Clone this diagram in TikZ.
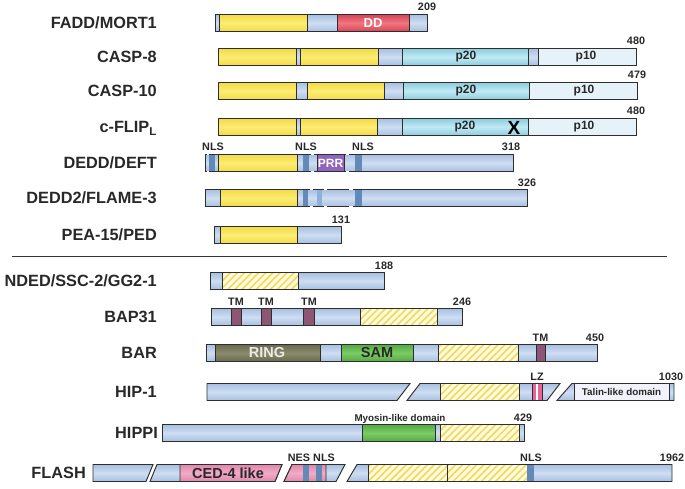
\documentclass[tikz,border=0pt]{standalone}
\usepackage{fontspec}
\setmainfont{Liberation Sans}
\usetikzlibrary{patterns.meta}

\definecolor{barblue}{RGB}{206,222,242}
\definecolor{barblueD}{RGB}{168,192,224}
\definecolor{dedyel}{RGB}{252,236,115}
\definecolor{dedyelD}{RGB}{243,218,72}
\definecolor{ddred}{RGB}{240,118,128}
\definecolor{ddredD}{RGB}{212,70,86}
\definecolor{pcyan}{RGB}{192,233,243}
\definecolor{pcyanD}{RGB}{140,205,222}
\definecolor{pten}{RGB}{230,242,250}
\definecolor{nlsblue}{RGB}{98,138,184}
\definecolor{nlslight}{RGB}{140,178,218}
\definecolor{prrpurple}{RGB}{145,100,190}
\definecolor{tmred}{RGB}{140,86,116}
\definecolor{ringolive}{RGB}{138,138,108}
\definecolor{ringoliveD}{RGB}{105,105,78}
\definecolor{samgreen}{RGB}{122,204,100}
\definecolor{samgreenD}{RGB}{85,170,70}
\definecolor{lzpink}{RGB}{232,100,148}
\definecolor{cedpink}{RGB}{240,172,200}
\definecolor{cedpinkD}{RGB}{225,135,170}
\definecolor{talinbg}{RGB}{242,242,252}
\definecolor{hatchbg}{RGB}{255,251,224}
\definecolor{hatchln}{RGB}{242,218,95}
\definecolor{txtgray}{RGB}{40,40,40}

% one domain box of a bar: x from, x to, row centre, style
\newcommand{\domseg}[4]{\draw[#4] (#1,#3-8.5) rectangle (#2,#3+8.5);}
% small inner box without outline (NLS, NES)
\newcommand{\nlsbox}[4]{\fill[#4] (#1,#3-7.8) rectangle (#2,#3+7.8);}
% break in the outline of a bar
\newcommand{\bordergap}[3]{\draw[gap] (#1,#3-8.5) -- (#2,#3-8.5) (#1,#3+8.5) -- (#2,#3+8.5);}

\begin{document}
\begin{tikzpicture}[x=1pt, y=-1pt,
    part/.style={draw=black!82, line width=0.95pt},
    blu/.style={part, top color=barblueD, bottom color=barblueD, middle color=barblue},
    ylw/.style={part, top color=dedyelD, bottom color=dedyelD, middle color=dedyel},
    red/.style={part, top color=ddredD, bottom color=ddredD, middle color=ddred},
    cyn/.style={part, top color=pcyanD, bottom color=pcyanD, middle color=pcyan},
    pale/.style={part, fill=pten},
    prr/.style={part, fill=prrpurple},
    tm/.style={part, fill=tmred},
    ring/.style={part, top color=ringoliveD, bottom color=ringoliveD, middle color=ringolive},
    sam/.style={part, top color=samgreenD, bottom color=samgreenD, middle color=samgreen},
    lz/.style={part, fill=lzpink},
    ced/.style={part, top color=cedpinkD, bottom color=cedpinkD, middle color=cedpink},
    talin/.style={part, fill=talinbg},
    hatch/.style={part, preaction={fill=hatchbg},
        pattern={Lines[angle=45, distance=5pt, line width=1.7pt]}, pattern color=hatchln},
    gap/.style={draw=white, line width=1.6pt},
    prot/.style={font=\fontsize{16.3}{18}\selectfont\bfseries, text=txtgray, anchor=base east, inner sep=0pt},
    num/.style={font=\fontsize{10.8}{12}\selectfont\bfseries, text=txtgray, anchor=base, inner sep=0pt},
    dom/.style={font=\fontsize{12}{13}\selectfont\bfseries, text=txtgray, inner sep=0pt},
    bigdom/.style={font=\fontsize{14.5}{16}\selectfont\bfseries, text=txtgray, inner sep=0pt},
    small/.style={font=\fontsize{9.8}{11}\selectfont\bfseries, text=txtgray, inner sep=0pt}]
    \useasboundingbox (0,0) rectangle (685,489);

    % Protein names
    \node[prot] (fadd) at (157,28.8) {FADD/MORT1};
    \node[prot] (casp8) at (157,62.8) {CASP-8};
    \node[prot] (casp10) at (157,96.8) {CASP-10};
    \node[prot] (cflip) at (157,132.8) {c-FLIP\textsubscript{L}};
    \node[prot] (dedd) at (157,168.8) {DEDD/DEFT};
    \node[prot] (dedd2) at (157,203.8) {DEDD2/FLAME-3};
    \node[prot] (pea) at (157,240.8) {PEA-15/PED};
    \node[prot] (nded) at (157,286.8) {NDED/SSC-2/GG2-1};
    \node[prot] (bap) at (157,322.8) {BAP31};
    \node[prot] (bar) at (157,358.8) {BAR};
    \node[prot] (hip) at (157,397.8) {HIP-1};
    \node[prot] (hippi) at (158,438.8) {HIPPI};
    \node[prot] (flash) at (86,478.8) {FLASH};

    % FADD/MORT1
    \domseg{215}{219}{23}{blu}
    \domseg{219}{307}{23}{ylw}
    \domseg{307}{337}{23}{blu}
    \domseg{337}{409}{23}{red}
    \domseg{409}{427}{23}{blu}
    \node[dom, text=white, font=\fontsize{13}{14}\selectfont\bfseries] (dd) at (373,23) {DD};
    \node[num] (n209) at (427,11) {209};

    % CASP-8
    \domseg{218}{296}{57}{ylw}
    \domseg{296}{300}{57}{blu}
    \domseg{300}{378}{57}{ylw}
    \domseg{378}{402}{57}{blu}
    \domseg{402}{528}{57}{cyn}
    \domseg{528}{538}{57}{blu}
    \domseg{538}{636}{57}{pale}
    \node[dom] (c8p20) at (466,57) {p20};
    \node[dom] (c8p10) at (586,57) {p10};
    \node[num] (n480a) at (636,45) {480};

    % CASP-10
    \domseg{218}{296}{91}{ylw}
    \domseg{296}{307}{91}{blu}
    \domseg{307}{384}{91}{ylw}
    \domseg{384}{403}{91}{blu}
    \domseg{403}{529}{91}{cyn}
    \domseg{529}{637}{91}{pale}
    \node[dom] (c10p20) at (466,91) {p20};
    \node[dom] (c10p10) at (584,91) {p10};
    \node[num] (n479) at (637,79) {479};

    % c-FLIP
    \domseg{218}{296}{127}{ylw}
    \domseg{296}{300}{127}{blu}
    \domseg{300}{377}{127}{ylw}
    \domseg{377}{402}{127}{blu}
    \domseg{402}{528}{127}{cyn}
    \domseg{528}{636}{127}{pale}
    \node[dom] (cfp20) at (465,127) {p20};
    \node[font=\fontsize{19}{20}\selectfont\bfseries, inner sep=0pt] (xmut) at (514,127.5) {X};
    \node[dom] (cfp10) at (584,127) {p10};
    \node[num] (n480b) at (636,115) {480};

    % DEDD/DEFT
    \domseg{205}{218}{163}{blu}
    \domseg{218}{297}{163}{ylw}
    \domseg{297}{513}{163}{blu}
    \nlsbox{209}{215}{163}{nlsblue}
    \nlsbox{303}{309}{163}{nlsblue}
    \nlsbox{355}{362}{163}{nlsblue}
    \domseg{317}{344}{163}{prr}
    \bordergap{206.8}{208.5}{163}
    \bordergap{310.5}{313.5}{163}
    \bordergap{346}{349}{163}
    \node[dom, text=white] (prrtxt) at (330.5,163) {PRR};
    \node[num] (nls1) at (213,151) {NLS};
    \node[num] (nls2) at (306,151) {NLS};
    \node[num] (nls3) at (363,151) {NLS};
    \node[num] (n318) at (511,151) {318};

    % DEDD2/FLAME-3
    \domseg{205}{220}{198}{blu}
    \domseg{220}{297}{198}{ylw}
    \domseg{297}{527}{198}{blu}
    \nlsbox{303}{308}{198}{nlsblue}
    \nlsbox{317}{322}{198}{nlslight}
    \nlsbox{355}{362}{198}{nlsblue}
    \bordergap{310}{312.5}{198}
    \bordergap{324}{327}{198}
    \bordergap{349}{353}{198}
    \node[num] (n326) at (527,186) {326};

    % PEA-15/PED
    \domseg{214}{220}{235}{blu}
    \domseg{220}{297}{235}{ylw}
    \domseg{297}{341}{235}{blu}
    \node[num] (n131) at (341,223) {131};

    % Divider
    \draw[line width=0.8pt, black!80] (12,256) -- (667,256);

    % NDED/SSC-2/GG2-1
    \domseg{210}{222}{281}{blu}
    \domseg{222}{298}{281}{hatch}
    \domseg{298}{384}{281}{blu}
    \node[num] (n188) at (384,269) {188};

    % BAP31
    \domseg{211}{462}{317}{blu}
    \domseg{231}{241}{317}{tm}
    \domseg{261}{271}{317}{tm}
    \domseg{303}{314}{317}{tm}
    \domseg{360}{437}{317}{hatch}
    \node[num] (tm1) at (236,305) {TM};
    \node[num] (tm2) at (266,305) {TM};
    \node[num] (tm3) at (309,305) {TM};
    \node[num] (n246) at (462,305) {246};

    % BAR
    \domseg{206}{215}{353}{blu}
    \domseg{215}{320}{353}{ring}
    \domseg{320}{341}{353}{blu}
    \domseg{341}{413}{353}{sam}
    \domseg{413}{438}{353}{blu}
    \domseg{438}{518}{353}{hatch}
    \domseg{518}{536}{353}{blu}
    \domseg{536}{545}{353}{tm}
    \domseg{545}{597}{353}{blu}
    \node[bigdom, text=black!8] (ringtxt) at (267,353) {RING};
    \node[bigdom] (samtxt) at (377,353) {SAM};
    \node[num] (tm4) at (540.5,341) {TM};
    \node[num] (n450) at (595,341) {450};

    % HIP-1
    \draw[blu] (207,383.5) -- (410,383.5) -- (397,400.5) -- (207,400.5) -- cycle;
    \draw[blu] (407,400.5) -- (420,383.5) -- (560,383.5) -- (547,400.5) -- cycle;
    \domseg{440}{519}{392}{hatch}
    \domseg{532}{542}{392}{lz}
    \fill[white] (535.8,384.3) rectangle (538.4,399.7);
    \draw[blu] (557,400.5) -- (572,383.5) -- (674,383.5) -- (674,400.5) -- cycle;
    \domseg{574}{669}{392}{talin}
    \node[small] (talintxt) at (621.5,392) {Talin-like domain};
    \node[num] (lz) at (537,380) {LZ};
    \node[num] (n1030) at (671,380) {1030};

    % HIPPI
    \domseg{162}{362}{433}{blu}
    \domseg{362}{435}{433}{sam}
    \domseg{435}{440}{433}{blu}
    \domseg{440}{519}{433}{hatch}
    \domseg{519}{524}{433}{blu}
    \node[small, anchor=base] (myo) at (400,421) {Myosin-like domain};
    \node[num] (n429) at (523,421) {429};

    % FLASH
    \draw[blu] (93,464.5) -- (153,464.5) -- (146,481.5) -- (93,481.5) -- cycle;
    \draw[blu] (150,481.5) -- (157,464.5) -- (282,464.5) -- (275,481.5) -- cycle;
    \draw[ced] (180,464.5) -- (282,464.5) -- (275,481.5) -- (180,481.5) -- cycle;
    \node[bigdom] (cedtxt) at (228,473) {CED-4 like};
    \draw[blu] (284,481.5) -- (292,464.5) -- (345,464.5) -- (336,481.5) -- cycle;
    \draw[ced] (284,481.5) -- (292,464.5) -- (326,464.5) -- (326,481.5) -- cycle;
    \nlsbox{303}{309}{473}{nlsblue}
    \nlsbox{316}{322}{473}{nlsblue}
    \draw[blu] (347,481.5) -- (357,464.5) -- (672,464.5) -- (672,481.5) -- cycle;
    \domseg{368}{447}{473}{hatch}
    \domseg{447}{527}{473}{hatch}
    \nlsbox{527.4}{534}{473}{nlsblue}
    \node[num] (nes) at (299,461) {NES};
    \node[num] (nls4) at (324,461) {NLS};
    \node[num] (nls5) at (531,461) {NLS};
    \node[num] (n1962) at (672,461) {1962};
\end{tikzpicture}
\end{document}
